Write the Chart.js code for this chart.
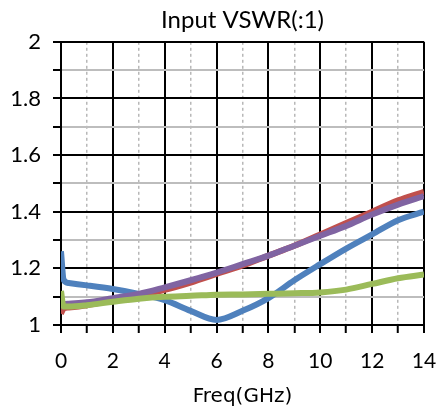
<!DOCTYPE html>
<html>
<head>
<meta charset="utf-8">
<script src="https://cdn.jsdelivr.net/npm/chart.js@4/dist/chart.umd.min.js"></script>
<style>
  html, body { margin: 0; padding: 0; background: #fff; }
  #wrap { width: 441px; height: 414px; }
</style>
</head>
<body>
<div id="wrap"><canvas id="vswr"></canvas></div>
<script>
// frequency points (GHz)
var freq = [0, 0.1, 0.3, 1, 2, 3, 4, 5, 6, 7, 8, 9, 10, 11, 12, 13, 14];

// VSWR traces
var blue   = [1.26, 1.16, 1.148, 1.14, 1.127, 1.11, 1.088, 1.05, 1.018, 1.05, 1.095, 1.158, 1.215, 1.27, 1.32, 1.37, 1.40];
var red    = [1.04, 1.058, 1.062, 1.07, 1.088, 1.105, 1.124, 1.15, 1.18, 1.21, 1.245, 1.28, 1.32, 1.36, 1.40, 1.44, 1.47];
var purple = [1.06, 1.072, 1.075, 1.08, 1.095, 1.11, 1.133, 1.158, 1.185, 1.215, 1.245, 1.28, 1.315, 1.35, 1.39, 1.425, 1.455];
var green  = [1.12, 1.065, 1.065, 1.07, 1.082, 1.093, 1.10, 1.103, 1.107, 1.108, 1.11, 1.112, 1.115, 1.125, 1.145, 1.165, 1.178];

var xTicks = [0, 2, 4, 6, 8, 10, 12, 14];
var yTicks = [1, 1.2, 1.4, 1.6, 1.8, 2];

function pts(vals) {
  return freq.map(function (f, i) { return { x: f, y: vals[i] }; });
}

function isMajorX(v) { return xTicks.indexOf(Math.round(v * 10) / 10) >= 0; }
function isMajorY(v) { return yTicks.indexOf(Math.round(v * 10) / 10) >= 0; }

function line(label, color, vals, order) {
  return {
    label: label,
    data: pts(vals),
    borderColor: color,
    backgroundColor: color,
    borderWidth: 6,
    pointRadius: 0,
    cubicInterpolationMode: 'monotone',
    order: order
  };
}

Chart.defaults.font.family = 'Lato, "Open Sans", sans-serif';
Chart.defaults.color = '#000';

new Chart(document.getElementById('vswr'), {
  type: 'line',
  data: {
    datasets: [
      line('S4', '#9BBB59', green, 0),
      line('S3', '#8064A2', purple, 1),
      line('S2', '#C0504D', red, 2),
      line('S1', '#4F81BD', blue, 3)
    ]
  },
  options: {
    responsive: true,
    maintainAspectRatio: false,
    animation: false,
    layout: { padding: { left: 3, right: 0, top: 4, bottom: 3 } },
    plugins: {
      legend: { display: false },
      tooltip: { enabled: false },
      title: {
        display: true,
        fullSize: false,
        text: 'Input VSWR(:1)',
        font: { size: 24, weight: 'normal' },
        padding: { top: 2, bottom: 7 }
      }
    },
    scales: {
      x: {
        type: 'linear',
        min: 0,
        max: 14,
        afterFit: function (s) { s.paddingRight = 17; s.height = 86; },
        ticks: {
          stepSize: 1,
          autoSkip: false,
          maxRotation: 0,
          padding: 18,
          font: { size: 21, lineHeight: 1 },
          callback: function (v) { return isMajorX(v) ? String(v) : ''; }
        },
        grid: {
          color: function (c) { return c.tick && isMajorX(c.tick.value) ? '#000' : '#b8b8b8'; },
          lineWidth: function (c) { return c.tick && isMajorX(c.tick.value) ? 2 : 1.5; },
          tickColor: '#000',
          tickWidth: 2,
          tickLength: 8
        },
        border: {
          color: '#000',
          width: 2,
          dash: function (c) { return c.tick && !isMajorX(c.tick.value) ? [3, 3] : []; }
        },
        title: {
          display: true,
          text: 'Freq(GHz)',
          font: { size: 20, family: '"DejaVu Sans", sans-serif' },
          padding: { top: 1, bottom: 2 }
        }
      },
      y: {
        min: 1,
        max: 2,
        afterFit: function (s) { s.width = 58; },
        ticks: {
          stepSize: 0.1,
          autoSkip: false,
          padding: 12,
          font: { size: 22 },
          callback: function (v) {
            return isMajorY(v) ? String(Math.round(v * 10) / 10) : '';
          }
        },
        grid: {
          color: function (c) { return c.tick && isMajorY(c.tick.value) ? '#000' : '#bdbdbd'; },
          lineWidth: 2,
          tickColor: '#000',
          tickWidth: 2,
          tickLength: 8
        },
        border: { color: '#000', width: 2 }
      }
    }
  }
});
</script>
</body>
</html>
